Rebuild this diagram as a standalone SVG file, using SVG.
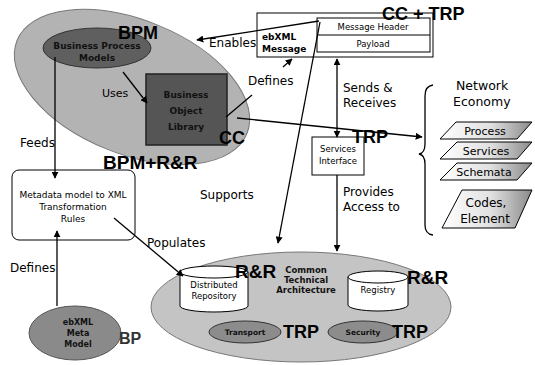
<svg xmlns="http://www.w3.org/2000/svg" width="535" height="365" viewBox="0 0 535 365">
<defs>
<marker id="ah" viewBox="0 0 10 10" refX="9" refY="5" markerWidth="7" markerHeight="7" orient="auto-start-reverse" markerUnits="userSpaceOnUse">
<path d="M0,0 L10,5 L0,10 z" fill="#000"/>
</marker>
<linearGradient id="pg" x1="0" y1="0" x2="1" y2="0">
<stop offset="0" stop-color="#ffffff"/>
<stop offset="0.55" stop-color="#e0e0e0"/>
<stop offset="1" stop-color="#8a8a8a"/>
</linearGradient>
<style>
.lbl{font-family:"DejaVu Sans",Verdana,sans-serif;font-size:12px;fill:#000}
.sm{font-family:"DejaVu Sans",Verdana,sans-serif;font-size:8.5px;fill:#000}
.dk{font-family:"DejaVu Sans",Verdana,sans-serif;font-size:9px;font-weight:bold;fill:#111}
.big{font-family:"Liberation Sans",Arial,sans-serif;font-size:18px;font-weight:bold;fill:#000}
.ln{stroke:#000;stroke-width:1.3;fill:none}
.box{fill:#fff;stroke:#000;stroke-width:1}
.para{fill:url(#pg);stroke:#000;stroke-width:1}
.pt{font-family:"DejaVu Sans",Verdana,sans-serif;font-size:11px;fill:#000;text-anchor:middle}
</style>
</defs>
<rect width="535" height="365" fill="#fff"/>

<g id="bpm-area">
<ellipse cx="132" cy="87" rx="124" ry="67" transform="rotate(22 132 87)" fill="#b3b3b3" stroke="#777" stroke-width="1"/>
</g>
<g id="bp-models">
<ellipse cx="97" cy="48" rx="54" ry="20" fill="#5f5f5f" stroke="#333" stroke-width="1"/>
<text class="dk" x="97" y="49" text-anchor="middle">Business Process</text>
<text class="dk" x="97" y="61" text-anchor="middle">Models</text>
</g>
<g id="bo-library">
<rect x="146" y="74" width="81" height="71" fill="#555" stroke="#222" stroke-width="1.5"/>
<text class="dk" x="186" y="98" text-anchor="middle">Business</text>
<text class="dk" x="186" y="114" text-anchor="middle">Object</text>
<text class="dk" x="186" y="130" text-anchor="middle">Library</text>
</g>
<text class="big" x="118" y="39">BPM</text>
<text class="big" x="219" y="144">CC</text>
<text class="big" x="103" y="169" style="font-size:19px">BPM+R&amp;R</text>

<g id="metadata-rules">
<rect x="12" y="170" width="123" height="70" rx="7" class="box"/>
<text class="sm" x="73" y="198" text-anchor="middle" style="font-size:9px">Metadata model  to XML</text>
<text class="sm" x="73" y="210" text-anchor="middle" style="font-size:9px">Transformation</text>
<text class="sm" x="73" y="222" text-anchor="middle" style="font-size:9px">Rules</text>
</g>

<g id="meta-model">
<ellipse cx="75" cy="333" rx="46" ry="27" fill="#8a8a8a" stroke="#555" stroke-width="1"/>
<text class="dk" x="78" y="325" text-anchor="middle" style="font-size:8px">ebXML</text>
<text class="dk" x="78" y="336" text-anchor="middle" style="font-size:8px">Meta</text>
<text class="dk" x="78" y="347" text-anchor="middle" style="font-size:8px">Model</text>
<text class="big" x="119" y="344" style="font-size:16px;fill:#333">BP</text>
</g>

<g id="cta">
<ellipse cx="301" cy="307" rx="150" ry="55" fill="#c4c4c4" stroke="#777" stroke-width="1"/>
<text class="dk" x="306" y="273" text-anchor="middle" style="font-size:8.5px">Common</text>
<text class="dk" x="306" y="283" text-anchor="middle" style="font-size:8.5px">Technical</text>
<text class="dk" x="306" y="293" text-anchor="middle" style="font-size:8.5px">Architecture</text>
</g>
<g id="dist-repo">
<path d="M180,272 L180,306 A34,6 0 0 0 248,306 L248,272" fill="#fff" stroke="#000"/>
<ellipse cx="214" cy="272" rx="34" ry="6" fill="#fff" stroke="#000"/>
<text class="sm" x="214" y="288" text-anchor="middle">Distributed</text>
<text class="sm" x="214" y="299" text-anchor="middle">Repository</text>
<text class="big" x="235" y="278" style="font-size:19px">R&amp;R</text>
</g>
<g id="registry">
<path d="M348,277 L348,305 A30,6 0 0 0 408,305 L408,277" fill="#fff" stroke="#000"/>
<ellipse cx="378" cy="277" rx="30" ry="6" fill="#fff" stroke="#000"/>
<text class="sm" x="378" y="293" text-anchor="middle">Registry</text>
<text class="big" x="407" y="284" style="font-size:19px">R&amp;R</text>
</g>
<g id="transport">
<ellipse cx="245" cy="332" rx="36" ry="11" fill="#8c8c8c" stroke="#333"/>
<text class="dk" x="245" y="335" text-anchor="middle" style="font-size:7.5px">Transport</text>
<text class="big" x="283" y="338">TRP</text>
</g>
<g id="security">
<ellipse cx="363" cy="332" rx="35" ry="11" fill="#8c8c8c" stroke="#333"/>
<text class="dk" x="363" y="335" text-anchor="middle" style="font-size:7.5px">Security</text>
<text class="big" x="392" y="338">TRP</text>
</g>

<g id="ebxml-message">
<rect x="257" y="13" width="176" height="44" class="box"/>
<text class="dk" x="262" y="40" style="font-size:9px;fill:#000">ebXML</text>
<text class="dk" x="262" y="52" style="font-size:9px;fill:#000">Message</text>
<rect x="317" y="18" width="113" height="34" class="box"/>
<line x1="317" y1="35" x2="430" y2="35" stroke="#000"/>
<text class="sm" x="373" y="30" text-anchor="middle">Message Header</text>
<text class="sm" x="373" y="47" text-anchor="middle">Payload</text>
<text class="big" x="382" y="20">CC + TRP</text>
</g>

<g id="services-interface">
<rect x="312" y="137" width="52" height="38" class="box"/>
<text class="sm" x="338" y="152" text-anchor="middle">Services</text>
<text class="sm" x="338" y="164" text-anchor="middle">Interface</text>
</g>

<g id="network-economy">
<text class="lbl" x="456" y="90" style="font-size:12.5px">Network</text>
<text class="lbl" x="453" y="106" style="font-size:12.5px">Economy</text>
<path d="M433,85 Q425,86 425,96 L425,144 Q425,153 419,154 Q425,155 425,164 L425,225 Q425,234 433,235" class="ln" stroke-width="1.2"/>
</g>
<g id="process">
<polygon points="456,122 532,122 517,139 440,139" class="para"/>
<text class="pt" x="485" y="135">Process</text>
</g>
<g id="services">
<polygon points="457,142 532,142 517,159 440,159" class="para"/>
<text class="pt" x="486" y="155">Services</text>
</g>
<g id="schemata">
<polygon points="457,163 532,163 517,180 440,180" class="para"/>
<text class="pt" x="484" y="176">Schemata</text>
</g>
<g id="codes">
<polygon points="462,190 532,190 515,228 442,228" class="para"/>
<text class="pt" x="486" y="207" style="font-size:12px">Codes,</text>
<text class="pt" x="485" y="223" style="font-size:12px">Element</text>
</g>

<g id="connectors">
<line x1="319" y1="21" x2="197" y2="40" class="ln" marker-end="url(#ah)"/>
<line x1="123" y1="72" x2="147" y2="103" class="ln" marker-end="url(#ah)"/>
<line x1="55" y1="57" x2="55" y2="178" class="ln" marker-end="url(#ah)"/>
<line x1="57" y1="306" x2="57" y2="231" class="ln" marker-end="url(#ah)"/>
<line x1="114" y1="218" x2="183" y2="276" class="ln" marker-end="url(#ah)"/>
<line x1="226" y1="117" x2="252" y2="95" class="ln"/>
<line x1="283" y1="67" x2="292" y2="59" class="ln" marker-end="url(#ah)"/>
<line x1="237" y1="118" x2="422" y2="137" class="ln" marker-end="url(#ah)"/>
<line x1="320" y1="22" x2="278" y2="243" class="ln" marker-end="url(#ah)"/>
<line x1="337" y1="59" x2="337" y2="137" class="ln" marker-start="url(#ah)" marker-end="url(#ah)"/>
<line x1="337" y1="175" x2="337" y2="251" class="ln" marker-end="url(#ah)"/>
</g>

<g id="labels">
<text class="lbl" x="209" y="47">Enables</text>
<text class="lbl" x="102" y="97" style="font-size:11px">Uses</text>
<text class="lbl" x="20" y="147">Feeds</text>
<text class="lbl" x="248" y="85">Defines</text>
<text class="lbl" x="343" y="92">Sends &amp;</text>
<text class="lbl" x="343" y="107">Receives</text>
<text class="big" x="352" y="143">TRP</text>
<text class="lbl" x="200" y="199">Supports</text>
<text class="lbl" x="343" y="196">Provides</text>
<text class="lbl" x="343" y="211">Access to</text>
<text class="lbl" x="147" y="247">Populates</text>
<text class="lbl" x="10" y="272">Defines</text>
</g>
</svg>
